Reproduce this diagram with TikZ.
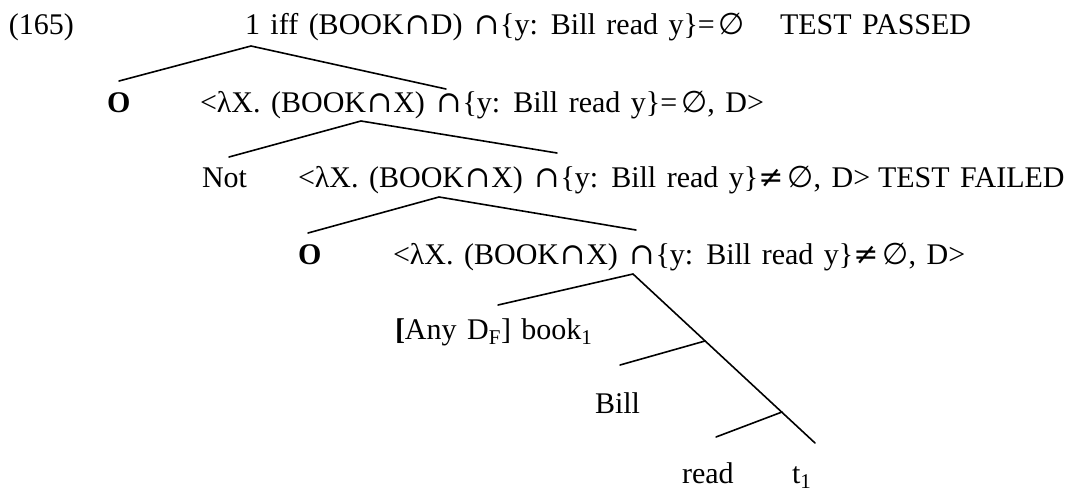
\documentclass[tikz,border=0pt]{standalone}
\usepackage{fontspec}
\setmainfont{Liberation Serif}[WordSpace=1.4]
\newfontfamily\symf{DejaVu Serif}
\newfontfamily\symg{DejaVu Sans}
\newcommand{\capx}{{\kern1pt\symf ∩\kern1pt}}
\newcommand{\emptyx}{{\kern4pt\symg ∅}}
\newcommand{\neqx}{{\symf ≠}}
\tikzset{
  lbl/.style={anchor=base west, inner sep=0pt, outer sep=0pt, font=\fontsize{30}{36}\selectfont},
  branch/.style={line width=1.6pt, line cap=round}
}
\begin{document}
\begin{tikzpicture}[x=1pt, y=-1pt]
\useasboundingbox (0,0) rectangle (1083,493);
% texts
\node[lbl] (n165) at (9,34) {(165)};
\node[lbl] (r1) at (245,34) {1 iff (BOOK\capx D) \capx\{y: Bill read y\}=\emptyx};
\node[lbl] (pass) at (780,34) {TEST PASSED};
\node[lbl] (o2) at (107,112) {\textbf{O}};
\node[lbl] (r2) at (200,112) {<λX. (BOOK\capx X) \capx\{y: Bill read y\}=\emptyx, D>};
\node[lbl] (not) at (202,187) {Not};
\node[lbl] (r3) at (298,187) {<λX. (BOOK\capx X) \capx\{y: Bill read y\}\neqx\emptyx, D>};
\node[lbl] (fail) at (878,187) {TEST FAILED};
\node[lbl] (o4) at (298,264) {\textbf{O}};
\node[lbl] (r4) at (393,264) {<λX. (BOOK\capx X) \capx\{y: Bill read y\}\neqx\emptyx, D>};
\node[lbl] (any) at (395,339) {\textbf{[}Any D\textsubscript{F}] book\textsubscript{1}};
\node[lbl] (bill) at (595,413) {Bill};
\node[lbl] (read) at (682,483) {read};
\node[lbl] (t1) at (792,483) {t\textsubscript{1}};
% branch points
\coordinate (a1) at (251,46);
\coordinate (l1) at (119,81);
\coordinate (e1) at (446,89);
\coordinate (a2) at (361,121);
\coordinate (l2) at (229,157);
\coordinate (e2) at (557,153);
\coordinate (a3) at (439,197);
\coordinate (l3) at (308,233);
\coordinate (e3) at (636,230);
\coordinate (a4) at (633,274);
\coordinate (l4) at (498,305);
\coordinate (b5) at (705,341);
\coordinate (l5) at (620,365);
\coordinate (b6) at (782,412);
\coordinate (l6) at (716,437);
\coordinate (e6) at (815,443);
% branches
\draw[branch] (l1) -- (a1) -- (e1);
\draw[branch] (l2) -- (a2) -- (e2);
\draw[branch] (l3) -- (a3) -- (e3);
\draw[branch] (l4) -- (a4) -- (e6);
\draw[branch] (l5) -- (b5);
\draw[branch] (l6) -- (b6);
\end{tikzpicture}
\end{document}
